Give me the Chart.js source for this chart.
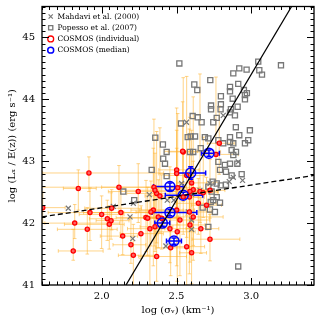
<!DOCTYPE html>
<html>
<head>
<meta charset="utf-8">
<script src="https://cdn.jsdelivr.net/npm/chart.js@4.4.1/dist/chart.umd.min.js"></script>
<style>
  html, body { margin: 0; padding: 0; background: #fff; }
</style>
</head>
<body>
<canvas id="chart" width="321" height="321"></canvas>
<script>
// Mahdavi et al. (2000)
const mahX = [2.567, 2.813, 1.776, 2.077, 2.189, 2.207, 2.318, 2.211, 2.429, 2.438, 2.853,
  2.942, 2.913, 2.534, 2.601, 2.601, 2.579, 2.657, 2.724, 2.880, 2.601, 2.482];
const mahY = [43.63, 43.74, 42.24, 42.27, 42.10, 41.75, 42.46, 42.32, 41.63, 42.37, 42.67,
  42.69, 42.99, 42.64, 42.05, 41.90, 42.18, 42.53, 42.64, 42.74, 42.47, 42.37];

// Popesso et al. (2007)
const popX = [2.519, 3.199, 3.047, 2.920, 2.969, 3.054, 3.072, 2.880, 2.726, 2.619, 2.639, 2.913,
  2.858, 2.858, 2.951, 2.971, 2.797, 2.958, 2.958, 2.876, 2.731, 2.797, 2.731, 2.795, 2.909, 2.864,
  2.858, 2.891, 2.608, 2.642, 2.769, 2.530, 2.668, 2.746, 2.897, 2.991, 2.358, 2.575, 2.595, 2.624,
  2.690, 2.858, 2.920, 2.409, 2.662, 2.713, 2.780, 2.813, 2.858, 2.880, 2.980, 2.958, 2.434, 2.590,
  2.612, 2.898, 2.869, 2.411, 2.423, 2.780, 2.824, 2.858, 2.907, 2.791, 2.831, 2.869, 2.936, 2.880,
  2.742, 2.769, 2.796, 2.831, 2.713, 2.735, 2.769, 2.746, 2.729, 2.791, 2.675, 2.724, 2.757, 2.713,
  2.913, 2.334, 2.144, 2.217, 2.434];
const popY = [44.58, 44.55, 44.61, 44.50, 44.48, 44.47, 44.40, 44.42, 44.31, 44.24, 44.15, 44.25,
  44.20, 44.13, 44.15, 44.10, 44.05, 44.07, 44.00, 44.01, 43.90, 43.92, 43.84, 43.84, 43.88, 43.84,
  43.79, 43.74, 43.73, 43.71, 43.70, 43.61, 43.63, 43.63, 43.55, 43.50, 43.38, 43.39, 43.40, 43.40,
  43.39, 43.39, 43.42, 43.27, 43.21, 43.37, 43.34, 43.29, 43.31, 43.29, 43.34, 43.29, 43.15, 43.15,
  43.15, 43.15, 43.18, 43.04, 42.96, 42.99, 42.94, 42.96, 42.96, 42.86, 42.83, 42.77, 42.79, 43.10,
  42.67, 42.64, 42.61, 42.62, 42.59, 42.51, 42.42, 42.37, 42.34, 42.33, 42.25, 42.22, 42.18, 41.94,
  41.30, 42.86, 42.51, 42.37, 42.76];

// COSMOS individual groups, with asymmetric errors
const indX = [1.914, 1.843, 1.605, 1.921, 1.819, 1.999, 2.115, 2.244, 2.066, 2.128, 2.037, 2.062,
  2.050, 1.903, 1.809, 2.140, 2.195, 2.211, 2.262, 2.296, 2.307, 2.322, 2.367, 2.389, 2.345, 2.401,
  2.349, 2.356, 2.367, 2.501, 2.545, 2.508, 2.568, 2.601, 2.612, 2.545, 2.590, 2.586, 2.657, 2.679,
  2.724, 2.646, 2.501, 2.586, 2.612, 2.523, 2.590, 2.456, 2.505, 2.724, 2.461, 2.568, 2.601, 2.663,
  2.541, 2.786, 2.764, 2.701, 2.329, 2.378, 2.356, 2.501];
const indY = [42.81, 42.56, 42.25, 42.17, 42.00, 42.14, 42.58, 42.51, 42.24, 42.17, 42.07, 42.04,
  41.98, 41.90, 41.55, 41.79, 41.65, 41.48, 41.83, 42.09, 42.08, 41.91, 42.48, 42.44, 42.21, 42.08,
  42.58, 42.53, 41.46, 42.86, 43.15, 42.57, 42.77, 42.65, 42.54, 42.42, 42.51, 42.42, 42.51, 42.49,
  42.53, 42.32, 42.21, 42.18, 42.10, 42.05, 41.97, 41.91, 41.86, 41.74, 41.60, 41.62, 41.52, 41.91,
  43.16, 43.29, 43.11, 42.29, 42.18, 42.10, 41.94, 42.80];
const indXLo = [0.31, 0.10, 0.05, 0.28, 0.20, 0.15, 0.52, 0.20, 0.18, 0.25, 0.12, 0.10,
  0.30, 0.20, 0.10, 0.15, 0.12, 0.10, 0.14, 0.20, 0.12, 0.15, 0.20, 0.10, 0.15, 0.08,
  0.35, 0.20, 0.12, 0.12, 0.10, 0.15, 0.15, 0.10, 0.15, 0.10, 0.12, 0.20, 0.10, 0.08,
  0.15, 0.15, 0.25, 0.15, 0.10, 0.12, 0.20, 0.10, 0.15, 0.12, 0.10, 0.10, 0.08, 0.10,
  0.12, 0.08, 0.10, 0.10, 0.10, 0.10, 0.10, 0.12];
const indXHi = [0.50, 0.12, 0.15, 0.43, 0.30, 0.15, 0.45, 0.25, 0.20, 0.20, 0.15, 0.12,
  0.10, 0.20, 0.20, 0.10, 0.10, 0.15, 0.15, 0.22, 0.20, 0.10, 0.15, 0.15, 0.20, 0.10,
  0.20, 0.12, 0.20, 0.15, 0.25, 0.15, 0.12, 0.15, 0.12, 0.10, 0.15, 0.10, 0.12, 0.10,
  0.10, 0.12, 0.12, 0.15, 0.20, 0.20, 0.10, 0.15, 0.12, 0.20, 0.10, 0.12, 0.10, 0.12,
  0.10, 0.10, 0.15, 0.10, 0.15, 0.12, 0.12, 0.10];
const indYLo = [0.30, 0.35, 0.25, 0.45, 0.25, 0.55, 0.40, 0.50, 0.35, 0.40, 0.35, 0.30,
  0.40, 0.40, 0.15, 0.30, 0.30, 0.50, 0.40, 0.55, 0.60, 0.90, 0.80, 0.60, 0.90, 0.50,
  0.50, 0.90, 0.40, 0.60, 0.80, 0.60, 1.00, 0.70, 0.90, 0.60, 0.55, 0.90, 0.50, 0.40,
  0.45, 0.50, 0.90, 1.00, 0.70, 0.90, 0.60, 0.55, 0.80, 0.35, 0.45, 0.62, 0.50, 0.40,
  0.60, 0.50, 0.45, 0.40, 0.55, 0.50, 0.40, 0.60];
const indYHi = [0.26, 0.30, 0.25, 0.40, 0.30, 0.30, 0.35, 0.45, 0.30, 0.35, 0.30, 0.45,
  0.30, 0.35, 0.35, 0.40, 0.45, 0.50, 0.45, 0.60, 0.50, 0.55, 1.00, 1.10, 1.00, 0.70,
  1.10, 0.60, 0.35, 1.00, 1.20, 1.20, 1.60, 0.85, 1.50, 0.70, 1.20, 1.10, 1.90, 0.90,
  0.50, 0.40, 1.00, 0.65, 0.90, 0.60, 0.55, 1.00, 0.60, 0.40, 0.50, 0.50, 0.55, 0.50,
  0.80, 0.60, 1.25, 0.45, 0.50, 0.60, 0.55, 0.70];

// COSMOS medians
const medX = [2.717, 2.595, 2.456, 2.545, 2.456, 2.405, 2.483];
const medY = [43.13, 42.81, 42.59, 42.45, 42.17, 42.00, 41.71];
const medXLo = [0.05, 0.09, 0.11, 0.12, 0.12, 0.05, 0.05];
const medXHi = [0.07, 0.10, 0.09, 0.13, 0.18, 0.05, 0.05];
const medYLo = [0.05, 0.10, 0.06, 0.05, 0.05, 0.05, 0.05];
const medYHi = [0.05, 0.10, 0.06, 0.05, 0.05, 0.05, 0.05];

// fitted relations
const steepX = [2.162, 3.27];
const steepY = [41.0, 45.5];
const flatX = [1.6, 3.42];
const flatY = [42.10, 42.77];

const xTickValues = [2.0, 2.5, 3.0];
const yTickValues = [41, 42, 43, 44, 45];

const pts = (xs, ys) => xs.map((x, i) => ({x: x, y: ys[i]}));
const serif = 'DejaVu Serif';

function drawBars(ctx, sx, sy, xs, ys, xlo, xhi, ylo, yhi, color, width, cap) {
  ctx.strokeStyle = color;
  ctx.lineWidth = width;
  xs.forEach((v, i) => {
    const px = sx.getPixelForValue(v), py = sy.getPixelForValue(ys[i]);
    const x0 = sx.getPixelForValue(v - xlo[i]), x1 = sx.getPixelForValue(v + xhi[i]);
    const y0 = sy.getPixelForValue(ys[i] - ylo[i]), y1 = sy.getPixelForValue(ys[i] + yhi[i]);
    ctx.beginPath();
    ctx.moveTo(x0, py); ctx.lineTo(x1, py);
    ctx.moveTo(x0, py - cap); ctx.lineTo(x0, py + cap);
    ctx.moveTo(x1, py - cap); ctx.lineTo(x1, py + cap);
    ctx.moveTo(px, y0); ctx.lineTo(px, y1);
    ctx.moveTo(px - cap, y0); ctx.lineTo(px + cap, y0);
    ctx.moveTo(px - cap, y1); ctx.lineTo(px + cap, y1);
    ctx.stroke();
  });
}

const errorBars = {
  id: 'errorBars',
  beforeDatasetsDraw(chart) {
    const {ctx, chartArea: a, scales: {x, y}} = chart;
    ctx.save();
    ctx.beginPath();
    ctx.rect(a.left, a.top, a.right - a.left, a.bottom - a.top);
    ctx.clip();
    drawBars(ctx, x, y, indX, indY, indXLo, indXHi, indYLo, indYHi, 'rgba(255,176,40,0.55)', 1, 1.8);
    drawBars(ctx, x, y, medX, medY, medXLo, medXHi, medYLo, medYHi, '#0000ff', 1.5, 2.5);
    ctx.restore();
  }
};

// inward ticks on all four sides plus the frame
const frameTicks = {
  id: 'frameTicks',
  afterLayout(chart) {
    // put the legend inside the top-left corner of the plot
    const lg = chart.legend, a = chart.chartArea;
    lg.left = a.left + 2;
    lg.top = a.top + 2.6;
  },
  afterDraw(chart) {
    const {ctx, chartArea: a, scales: {x, y}} = chart;
    ctx.save();
    ctx.strokeStyle = '#000';
    ctx.lineWidth = 1;
    ctx.beginPath();
    for (let k = Math.ceil(x.min / 0.05); k <= Math.floor(x.max / 0.05); k++) {
      const px = Math.round(x.getPixelForValue(k * 0.05)) + 0.5;
      const len = k % 10 === 0 ? 7 : 3.5;
      ctx.moveTo(px, a.bottom); ctx.lineTo(px, a.bottom - len);
      ctx.moveTo(px, a.top); ctx.lineTo(px, a.top + len);
    }
    for (let k = Math.ceil(y.min * 10); k <= Math.floor(y.max * 10); k++) {
      const py = Math.round(y.getPixelForValue(k / 10)) + 0.5;
      const len = k % 10 === 0 ? 7 : 3.5;
      ctx.moveTo(a.left, py); ctx.lineTo(a.left + len, py);
      ctx.moveTo(a.right, py); ctx.lineTo(a.right - len, py);
    }
    ctx.stroke();
    ctx.lineWidth = 1.3;
    ctx.strokeRect(a.left, a.top, a.right - a.left, a.bottom - a.top);
    ctx.restore();
  }
};

new Chart(document.getElementById('chart'), {
  type: 'scatter',
  data: {
    datasets: [
      {label: 'Mahdavi et al. (2000)', data: pts(mahX, mahY), pointStyle: 'crossRot', pointRadius: 3.5,
        borderColor: '#777', backgroundColor: '#777', borderWidth: 1.2, order: 3},
      {label: 'Popesso et al. (2007)', data: pts(popX, popY), pointStyle: 'rect', pointRadius: 3.6,
        borderColor: '#777', backgroundColor: 'rgba(0,0,0,0)', borderWidth: 1.3, order: 4},
      {label: 'COSMOS (individual)', data: pts(indX, indY), pointStyle: 'circle', pointRadius: 2.1,
        borderColor: '#ff0000', backgroundColor: '#ff6060', borderWidth: 1.3, order: 2},
      {label: 'COSMOS (median)', data: pts(medX, medY), pointStyle: 'circle', pointRadius: 5,
        borderColor: '#0000ff', backgroundColor: 'rgba(0,0,0,0)', borderWidth: 1.5, order: 1},
      {label: 'steep', data: pts(steepX, steepY), showLine: true, pointRadius: 0,
        borderColor: '#000', borderWidth: 1.3, order: 0},
      {label: 'flat', data: pts(flatX, flatY), showLine: true, pointRadius: 0,
        borderColor: '#000', borderWidth: 1.3, borderDash: [5, 3], order: 0}
    ]
  },
  options: {
    responsive: false,
    animation: false,
    layout: {padding: {top: 5, right: 7, left: 0, bottom: 0}},
    plugins: {
      tooltip: {enabled: false},
      legend: {
        position: 'chartArea',
        fullSize: false,
        align: 'start',
        labels: {
          usePointStyle: true,
          boxWidth: 6,
          boxHeight: 4.2,
          padding: 3.7,
          color: '#000',
          font: {family: serif, size: 7.5},
          filter: item => item.datasetIndex < 4,
          sort: (a, b) => a.datasetIndex - b.datasetIndex,
          generateLabels(chart) {
            const items = Chart.defaults.plugins.legend.labels.generateLabels(chart);
            items.forEach(it => { it.fillStyle = 'rgba(0,0,0,0)'; });
            return items;
          }
        }
      }
    },
    scales: {
      x: {
        type: 'linear',
        min: 1.6,
        max: 3.42,
        grid: {display: false, drawTicks: false},
        border: {display: false},
        afterBuildTicks: s => { s.ticks = xTickValues.map(v => ({value: v})); },
        afterFit: s => { s.height = 36; s.paddingLeft = 0; s.paddingRight = 0; },
        ticks: {color: '#000', padding: 5, font: {family: serif, size: 10},
          callback: v => v.toFixed(1)},
        title: {display: true, text: 'log (σᵥ) (km⁻¹)', color: '#000',
          font: {family: serif, size: 10}, padding: {top: 0, bottom: 5}}
      },
      y: {
        type: 'linear',
        min: 41,
        max: 45.5,
        grid: {display: false, drawTicks: false},
        border: {display: false},
        afterBuildTicks: s => { s.ticks = yTickValues.map(v => ({value: v})); },
        afterFit: s => { s.width = 42; s.paddingTop = 0; s.paddingBottom = 0; },
        ticks: {color: '#000', padding: 7, font: {family: serif, size: 10},
          callback: v => v.toFixed(0)},
        title: {display: true, text: 'log (Lₓ / E(z)) (erg s⁻¹)', color: '#000',
          font: {family: serif, size: 10}, padding: {top: 6, bottom: 0}}
      }
    }
  },
  plugins: [errorBars, frameTicks]
});
</script>
</body>
</html>
